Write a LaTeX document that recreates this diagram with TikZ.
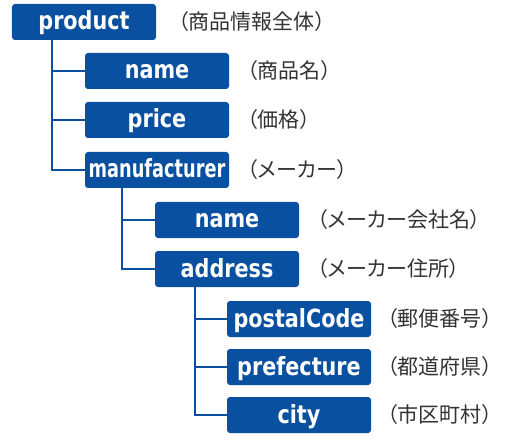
\documentclass[tikz,border=0pt]{standalone}
\usepackage{fontspec}
\setmainfont{DejaVu Sans}
\newfontfamily\fieldfont{DejaVu Sans}[FakeStretch=0.83]
\newfontfamily\fieldfontnarrow{DejaVu Sans}[FakeStretch=0.71]
\newfontfamily\jpfont[RawFeature=+palt]{Noto Sans CJK JP}
\usetikzlibrary{positioning}
\definecolor{boxblue}{RGB}{10,80,160}
\begin{document}
\begin{tikzpicture}[x=1bp, y=-1bp]

	\tikzstyle{field}=[rectangle, rounded corners=3bp, fill=boxblue, text=white, minimum width=144bp, minimum height=36bp, inner sep=0pt, text height=20bp, text depth=4bp, font=\fieldfont\fontsize{25bp}{28bp}\selectfont\bfseries]
	\tikzstyle{note}=[inner sep=0pt, text=black!80, font=\jpfont\fontsize{21bp}{24bp}\selectfont]
	\tikzstyle{link}=[draw=boxblue, line width=2bp]

	\useasboundingbox (0,0) rectangle (513,441);

	% placement des champs
	\node[field] 	(product) at (84,22) 	{product};
	\node[field] 	(name) at (157,71) 	{name};
	\node[field] 	(price) at (157,120) 	{price};
	\node[field] 	(maker) at (157,170) 	{\fieldfontnarrow\bfseries manufacturer};
	\node[field] 	(makername) at (227,220) 	{name};
	\node[field] 	(address) at (227,269) 	{address};
	\node[field] 	(postal) at (299,319) 	{postalCode};
	\node[field] 	(pref) at (299,367) 	{prefecture};
	\node[field] 	(city) at (299,415) 	{city};

	% commentaires
	\node[note, right=22bp of product] 	(productnote) 	{（商品情報全体）};
	\node[note, right=18bp of name] 	(namenote) 	{（商品名）};
	\node[note, right=18bp of price] 	(pricenote) 	{（価格）};
	\node[note, right=18bp of maker] 	(makernote) 	{（メーカー）};
	\node[note, right=18bp of makername] 	(makernamenote) 	{（メーカー会社名）};
	\node[note, right=18bp of address] 	(addressnote) 	{（メーカー住所）};
	\node[note, right=16bp of postal] 	(postalnote) 	{（郵便番号）};
	\node[note, right=16bp of pref] 	(prefnote) 	{（都道府県）};
	\node[note, right=16bp of city] 	(citynote) 	{（市区町村）};

	% liens
	\draw[link] ([xshift=40bp]product.south west) |- (name.west) ;
	\draw[link] ([xshift=40bp]product.south west) |- (price.west) ;
	\draw[link] ([xshift=40bp]product.south west) |- (maker.west) ;
	\draw[link] ([xshift=37bp]maker.south west) |- (makername.west) ;
	\draw[link] ([xshift=37bp]maker.south west) |- (address.west) ;
	\draw[link] ([xshift=40bp]address.south west) |- (postal.west) ;
	\draw[link] ([xshift=40bp]address.south west) |- (pref.west) ;
	\draw[link] ([xshift=40bp]address.south west) |- (city.west) ;

\end{tikzpicture}
\end{document}
